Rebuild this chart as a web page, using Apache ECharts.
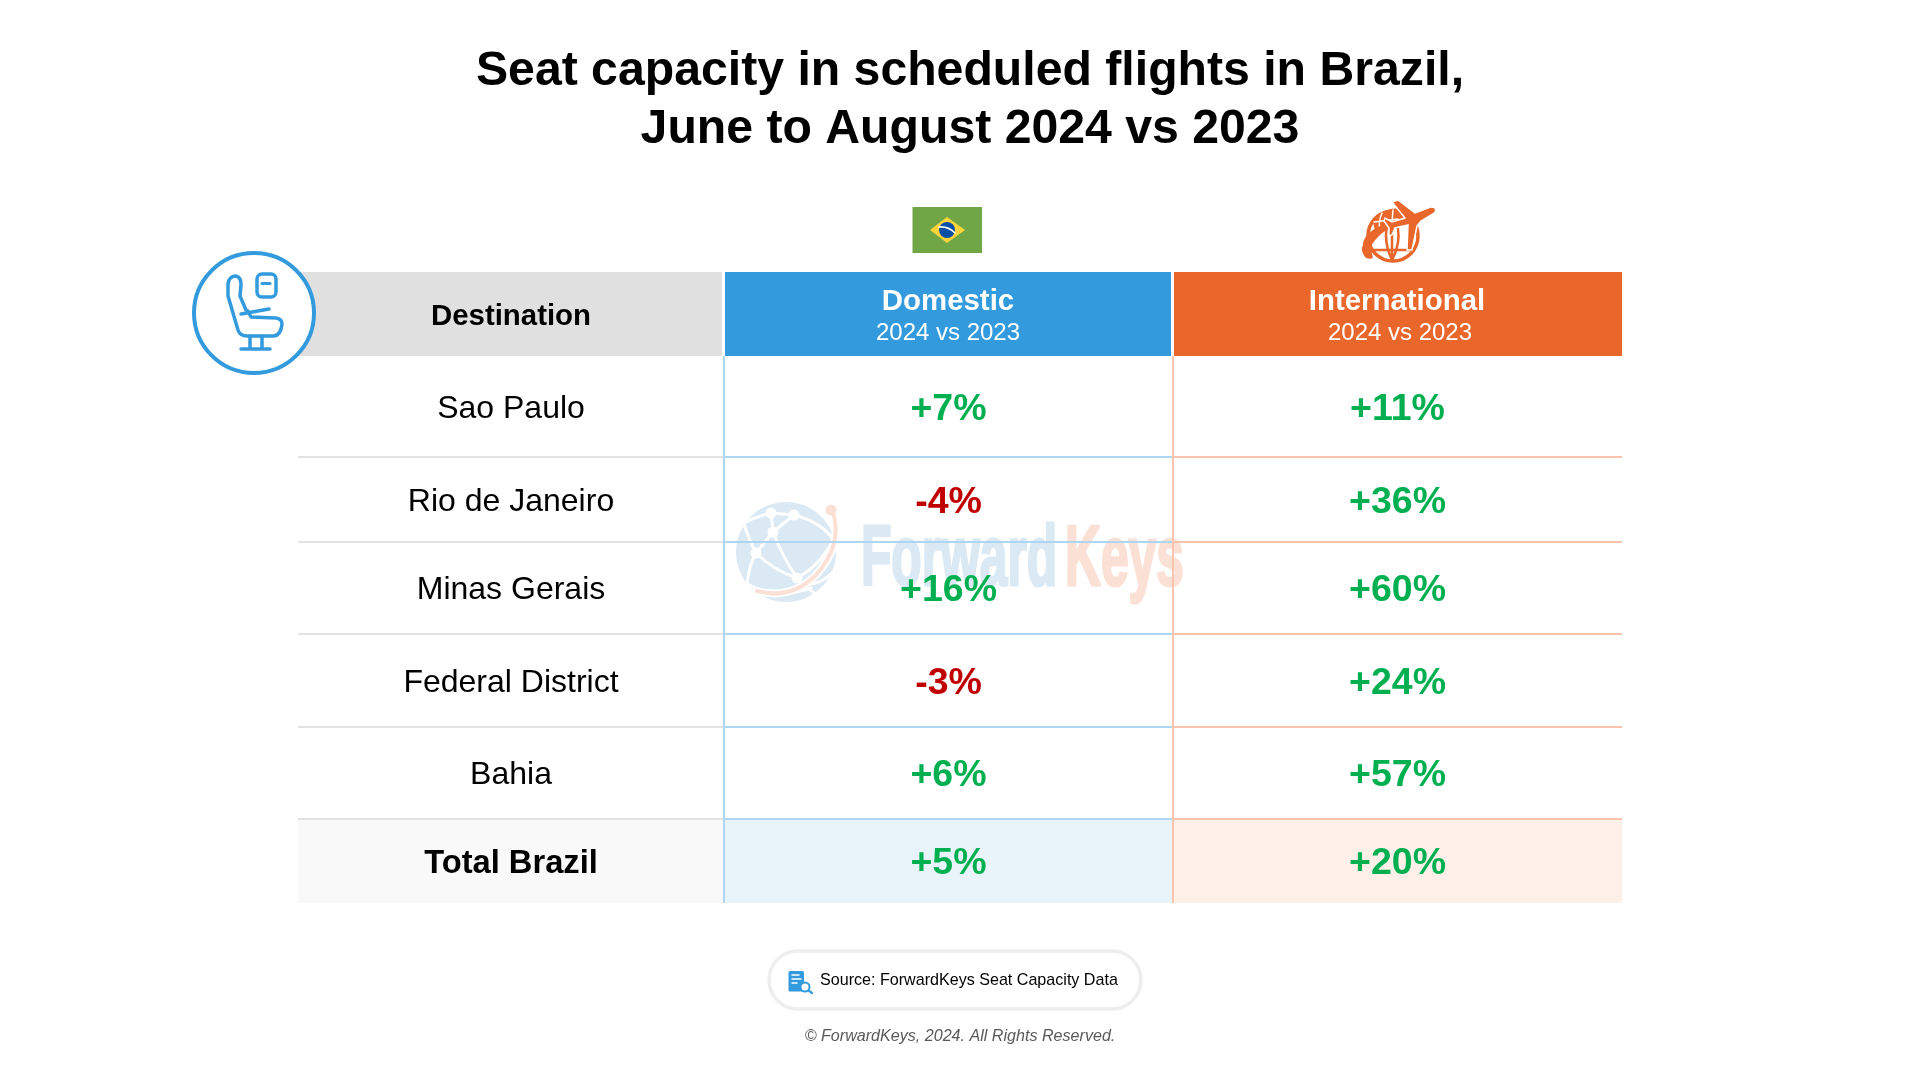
<!DOCTYPE html>
<html>
<head>
<meta charset="utf-8">
<title>Seat capacity in scheduled flights in Brazil</title>
<script src="https://cdn.jsdelivr.net/npm/echarts@6/dist/echarts.min.js"></script>
<style>
  html, body { margin: 0; padding: 0; background: #fff; }
  #chart { width: 1920px; height: 1081px; }
</style>
</head>
<body>
<div id="chart"></div>
<script>
// table content
var destinations = ['Sao Paulo', 'Rio de Janeiro', 'Minas Gerais', 'Federal District', 'Bahia', 'Total Brazil'];
var domesticChange = [7, -4, 16, -3, 6, 5];
var internationalChange = [11, 36, 60, 24, 57, 20];
var columnTitles = ['Destination', 'Domestic', 'International'];
var columnSubtitle = '2024 vs 2023';

var titleText = 'Seat capacity in scheduled flights in Brazil,\nJune to August 2024 vs 2023';
var sourceText = 'Source: ForwardKeys Seat Capacity Data';
var copyrightText = '\u00A9 ForwardKeys, 2024. All Rights Reserved.';

// table geometry, in axis units (1 unit = 1px), rows are not the same height
var colEdges = [0, 426, 875, 1324];
var rowEdges = [0, 84, 185, 270, 362, 455, 547, 631];

var FONT = '"Liberation Sans", Arial, sans-serif';
var BLUE = '#339BDD';
var ORANGE = '#E9672A';
var GREEN = '#00B050';
var RED = '#C00000';
var lineColors = ['#E2E2E2', '#AED6F1', '#FAC4AC'];
var totalFills = ['#F9F9F9', '#E8F4FA', '#FDF0E8'];
var headFills = ['#E0E0E0', BLUE, ORANGE];

function fmt(v) {
  return (v > 0 ? '+' : '') + v + '%';
}

// one entry per table cell
var cells = [];
for (var c = 0; c < 3; c++) {
  cells.push({ col: c, row: 0, head: true });
}
for (var r = 0; r < destinations.length; r++) {
  cells.push({ col: 0, row: r + 1, text: destinations[r] });
  cells.push({ col: 1, row: r + 1, value: domesticChange[r] });
  cells.push({ col: 2, row: r + 1, value: internationalChange[r] });
}

function renderCell(params, api) {
  var cell = cells[params.dataIndex];
  var p0 = api.coord([colEdges[cell.col], rowEdges[cell.row]]);
  var p1 = api.coord([colEdges[cell.col + 1], rowEdges[cell.row + 1]]);
  var w = p1[0] - p0[0];
  var h = p1[1] - p0[1];
  var cx = (p0[0] + p1[0]) / 2;
  var cy = (p0[1] + p1[1]) / 2;
  var isTotal = cell.row === destinations.length;
  var children = [];

  if (cell.head) {
    var gap = cell.col < 2 ? 2 : 0;
    children.push({
      type: 'rect',
      shape: { x: p0[0] + (cell.col > 0 ? 1 : 0), y: p0[1], width: w - gap - (cell.col > 0 ? 1 : 0), height: h },
      style: { fill: headFills[cell.col] }
    });
    if (cell.col === 0) {
      children.push({
        type: 'text',
        style: { x: cx, y: cy + 3, text: columnTitles[0], align: 'center', verticalAlign: 'middle', font: 'bold 29.4px ' + FONT, fill: '#000' }
      });
    } else {
      children.push({
        type: 'text',
        style: { x: cx - 0.5, y: p0[1] + 30, text: columnTitles[cell.col], align: 'center', verticalAlign: 'middle', font: 'bold 29.4px ' + FONT, fill: '#fff' }
      });
      children.push({
        type: 'text',
        style: { x: cx + (cell.col === 2 ? 2.5 : -0.5), y: p0[1] + 61, text: columnSubtitle, align: 'center', verticalAlign: 'middle', font: '24px ' + FONT, fill: '#fff' }
      });
    }
    return { type: 'group', children: children };
  }

  if (isTotal) {
    children.push({
      type: 'rect',
      shape: { x: p0[0], y: p0[1] + 1, width: w, height: h - 1 },
      style: { fill: totalFills[cell.col] }
    });
  }
  // row rule under the cell, the one above the total is heavier
  if (!isTotal) {
    children.push({
      type: 'rect',
      shape: { x: p0[0], y: p1[1] - 1, width: w, height: cell.row === destinations.length - 1 ? 3 : 2 },
      style: { fill: lineColors[cell.col] }
    });
  }
  // column rule on the left of the value columns
  if (cell.col > 0) {
    children.push({
      type: 'rect',
      shape: { x: p0[0] - 1, y: p0[1], width: 2, height: h },
      style: { fill: lineColors[cell.col] }
    });
  }
  if (cell.col === 0) {
    children.push({
      type: 'text',
      style: {
        x: cx, y: cy + 2.5, text: cell.text, align: 'center', verticalAlign: 'middle',
        font: (isTotal ? 'bold 32.7px ' : '32px ') + FONT, fill: '#000'
      }
    });
  } else {
    children.push({
      type: 'text',
      style: {
        x: cx, y: cy + 3, text: fmt(cell.value), align: 'center', verticalAlign: 'middle',
        font: 'bold 37.5px ' + FONT, fill: cell.value < 0 ? RED : GREEN
      }
    });
  }
  return { type: 'group', children: children };
}

var chart = echarts.init(document.getElementById('chart'));

// ---- pictograms, drawn by hand ----
function line(path, color, width) {
  return { type: 'path', shape: { pathData: path }, style: { fill: null, stroke: color, lineWidth: width, lineCap: 'round', lineJoin: 'round' } };
}
function solid(path, color) {
  return { type: 'path', shape: { pathData: path }, style: { fill: color } };
}
function dot(x, y, rad, color) {
  return { type: 'circle', shape: { cx: x, cy: y, r: rad }, style: { fill: color } };
}

var WM_BLUE = '#DAE9F4';
var WM_ORANGE = '#FBE0D6';

// everything in the watermark globe hangs off one group moved by 1px
var watermarkGlobe = {
  type: 'group',
  x: 1,
  children: [
    dot(785, 552, 50, WM_BLUE),
    line('M770 513 L793 515 M770 513 L772 532 M793 515 L772 532 M772 532 L755 553', '#fff', 3),
    line('M755 553 Q772 570 796 578 M772 532 Q782 558 796 578 M793 515 Q820 522 832 539', '#fff', 3),
    line('M770 513 Q750 518 742 524 M755 553 Q748 540 743 524 M755 553 Q748 565 746 584 M746 584 Q775 600 810 588', '#fff', 3),
    line('M796 578 Q820 565 832 540 M806 588 L818 596 M800 585 Q820 585 832 572', '#fff', 3),
    dot(770, 513, 5.5, '#fff'), dot(793, 515, 5.5, '#fff'), dot(772, 532, 5.5, '#fff'),
    dot(755, 553, 5.5, '#fff'), dot(796, 578, 5.5, '#fff'),
    line('M832 512 Q842 545 815 575 Q790 600 756 591', '#fff', 8),
    line('M832 512 Q842 545 815 575 Q790 600 756 591', WM_ORANGE, 4),
    dot(830, 510, 5.5, WM_ORANGE)
  ]
};

var watermark = [
  watermarkGlobe,
  {
    type: 'text', x: 861, y: 561, scaleX: 0.578,
    style: { text: 'Forward', font: 'bold 86px ' + FONT, fill: WM_BLUE, stroke: WM_BLUE, lineWidth: 3, verticalAlign: 'middle' }
  },
  {
    type: 'text', x: 1065, y: 561, scaleX: 0.578,
    style: { text: 'Keys', font: 'bold 86px ' + FONT, fill: WM_ORANGE, stroke: WM_ORANGE, lineWidth: 3, verticalAlign: 'middle' }
  }
];

var seatIcon = [
  { type: 'circle', shape: { cx: 254, cy: 313, r: 60 }, style: { fill: '#fff', stroke: BLUE, lineWidth: 4 } },
  { type: 'rect', shape: { x: 257, y: 274, width: 19, height: 23, r: 5 }, style: { fill: null, stroke: BLUE, lineWidth: 3.5 } },
  line('M262 283.5 L270 283.5', BLUE, 3),
  line('M228 296 L228 284 Q229 276 236 276 Q241 277 241 285 L240 296 L246 310 M228 296 L238 330 Q240 336 247 336 L274 336 Q281 335 282 324 Q282 319 276 318 L251 317 L248 311', BLUE, 3.5),
  line('M241 314 L269 309', BLUE, 3.5),
  line('M250 336 L250 348 M262 336 L262 348 M241 349 L270 349', BLUE, 3.5)
];

var flagIcon = [
  { type: 'rect', shape: { x: 912.5, y: 207, width: 69.5, height: 46 }, style: { fill: '#70A646' } },
  solid('M930 230 L947 217 L965 230 L947 243 Z', '#FFD43B'),
  dot(947, 230, 8, '#0A4FA6'),
  line('M939 227 Q948 226 955 233', '#fff', 1.5)
];

var planeIcon = [
  // globe
  line('M1368 236 A25 25 0 1 1 1418 236 A25 25 0 1 1 1368 236', ORANGE, 3.5),
  line('M1392 212 Q1380 235 1392 260 M1392 212 Q1405 235 1392 260 M1392 212 L1392 260 M1372 250 L1412 250', ORANGE, 2.5),
  solid('M1372 219 Q1384 208 1400 208 L1404 218 L1376 234 Z', ORANGE),
  line('M1382 213 Q1378 222 1380 230 M1393 210 L1392 222 M1374 222 L1398 219', '#fff', 1.5),
  // swoosh
  solid('M1365 257 Q1360 250 1363 245 Q1363 238 1370 232 Q1380 224 1393 223 L1395 226 Q1383 231 1378 237 Q1370 245 1372 248 Q1371 253 1373 258 Q1368 260 1365 257 Z', ORANGE),
  // plane
  {
    type: 'path',
    shape: { pathData: 'M1435 208 Q1437 212 1433 214 L1421 221 L1417 226 L1412 250 L1407 250 L1408 225 L1395 228 L1392 235 L1389 236 L1389 228 L1384 221 L1385 218 L1392 222 L1405 218 L1392 202 L1398 200 L1415 213 L1428 208 Q1432 206 1435 208 Z' },
    style: { fill: ORANGE, stroke: '#fff', lineWidth: 1.5 }
  }
];

var docIcon = [
  { type: 'rect', shape: { x: 788.5, y: 971, width: 15.5, height: 20.5, r: 1.5 }, style: { fill: BLUE } },
  line('M792 975 L799 975 M792 979 L801 979 M792 983 L797 983', '#fff', 1.5),
  { type: 'circle', shape: { cx: 805, cy: 987, r: 4.5 }, style: { fill: '#fff', stroke: BLUE, lineWidth: 2 } },
  line('M808.5 990.5 L812 993', BLUE, 2.2)
];

var footer = [
  { type: 'rect', shape: { x: 769, y: 951, width: 372, height: 58, r: 29 }, style: { fill: '#fff', stroke: '#EEEEEE', lineWidth: 3.5 } },
  { type: 'text', x: 820, y: 981, style: { text: sourceText, font: '16.1px ' + FONT, fill: '#000', verticalAlign: 'middle' } },
  { type: 'text', x: 960, y: 1037, style: { text: copyrightText, font: 'italic 16.1px ' + FONT, fill: '#595959', align: 'center', verticalAlign: 'middle' } }
];

// a custom series holding one fixed drawing, lets z order put it under/over the table
function drawing(z, elements) {
  return {
    type: 'custom',
    coordinateSystem: 'none',
    silent: true,
    z: z,
    data: [0],
    renderItem: function () {
      return { type: 'group', children: elements };
    }
  };
}

var option = {
  animation: false,
  backgroundColor: '#fff',
  title: {
    text: titleText,
    left: 970,
    top: 43,
    textAlign: 'center',
    padding: 0,
    textStyle: { fontFamily: FONT, fontSize: 48.2, fontWeight: 'bold', color: '#000', lineHeight: 58 }
  },
  grid: { left: 298, top: 272, width: 1324, height: 631 },
  xAxis: { type: 'value', min: 0, max: colEdges[3], show: false },
  yAxis: { type: 'value', min: 0, max: rowEdges[7], inverse: true, show: false },
  series: [
    drawing(1, watermark),
    {
      type: 'custom',
      coordinateSystem: 'cartesian2d',
      clip: false,
      z: 2,
      silent: true,
      encode: { x: 0, y: 1 },
      data: cells.map(function (cell) {
        return [colEdges[cell.col], rowEdges[cell.row]];
      }),
      renderItem: renderCell
    },
    drawing(3, seatIcon.concat(flagIcon, planeIcon, footer, docIcon))
  ]
};

chart.setOption(option);
</script>
</body>
</html>
